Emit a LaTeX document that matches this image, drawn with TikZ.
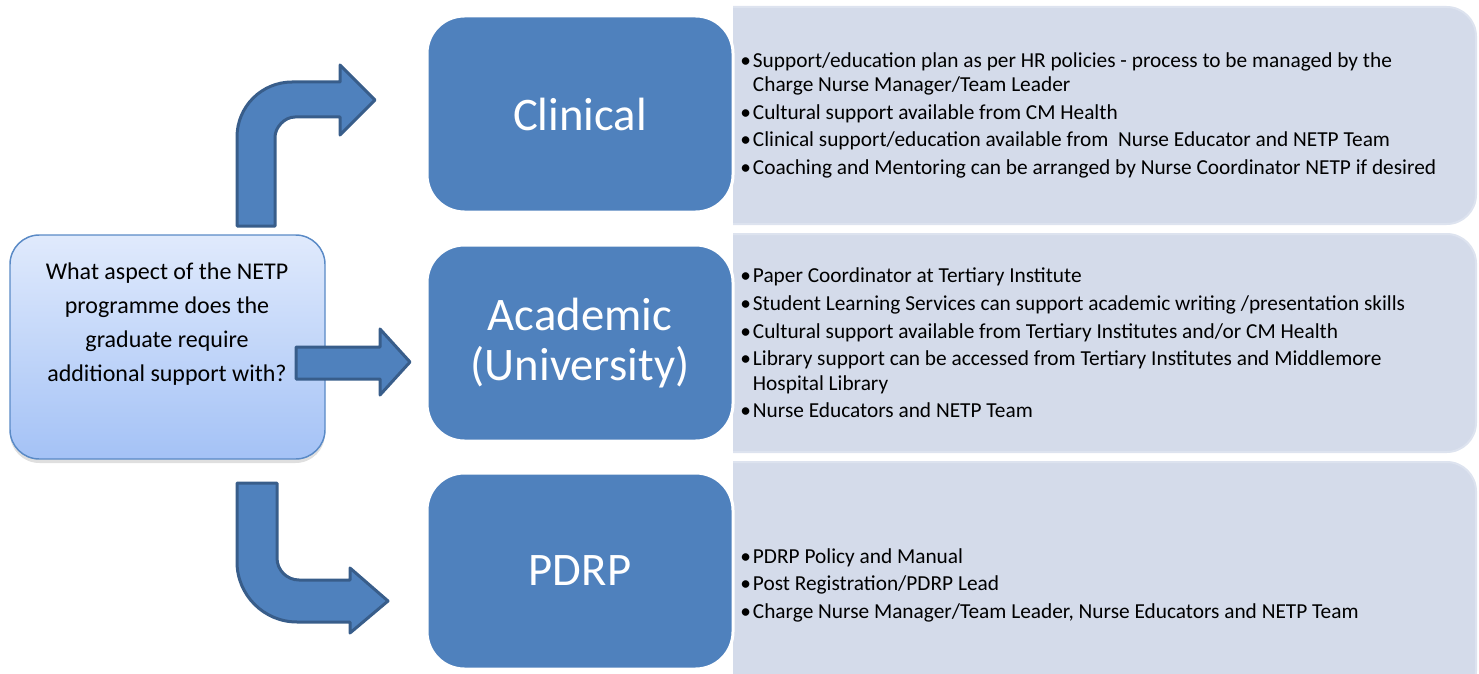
\documentclass[tikz,border=0pt]{standalone}
\usepackage{fontspec}
\setmainfont{Carlito}
\usetikzlibrary{shadows}

\definecolor{boxblue}{HTML}{4F81BD}
\definecolor{edgeblue}{HTML}{385D8A}
\definecolor{panelgray}{HTML}{D4DBEA}
\definecolor{panelrim}{HTML}{DDE3EF}
\definecolor{asktop}{HTML}{E0EAFC}
\definecolor{askbottom}{HTML}{A4C2F6}
\definecolor{askrim}{HTML}{5A8AC6}

% bullet line and its wrapped continuation
\newcommand{\itm}[1]{\makebox[9.5pt][l]{\textbullet}#1}
\newcommand{\cnt}[1]{\hspace*{9.5pt}#1}

\tikzset{
  topic/.style={rectangle, rounded corners=28pt, fill=boxblue, draw=white,
    line width=2.25pt, minimum width=229.5pt, minimum height=147pt,
    text=white, align=center, font=\fontsize{35}{38}\selectfont},
  panel/.style={rectangle, rounded corners=22pt, fill=panelgray, draw=panelrim,
    line width=1.5pt, minimum width=582pt},
  notes/.style={anchor=west, align=left, inner sep=0pt,
    font=\fontsize{16}{18.4}\selectfont},
  ask/.style={rectangle, rounded corners=22pt, top color=asktop,
    bottom color=askbottom, draw=askrim, line width=1.1pt,
    minimum width=236.25pt, minimum height=168pt,
    drop shadow={opacity=0.25, shadow xshift=0pt, shadow yshift=-3pt}},
  asktext/.style={align=center, font=\fontsize{18}{25.5}\selectfont},
  bigarrow/.style={fill=boxblue, draw=edgeblue, line width=2.25pt, line join=round}
}

\begin{document}
\begin{tikzpicture}[x=0.75pt, y=-0.75pt]
    \useasboundingbox (0,0) rectangle (1479,674);

    \begin{scope}
        \clip (733,0) rectangle (1479,674);
        \node [panel, minimum height=162.75pt] (pclin) at (1088,115.5) {};
        \node [panel, minimum height=163.5pt] (pacad) at (1088,343) {};
        \node [panel, minimum height=178.5pt] (ppdrp) at (1088,581) {};
    \end{scope}

    \node [topic] (clin) at (580,114) {Clinical};
    \node [topic] (acad) at (580,343) {Academic\\(University)};
    \node [topic] (pdrp) at (580,571) {PDRP};

    \node [notes] (nclin) at (740,115) {%
        \itm{Support/education plan as per HR policies - process to be managed by the}\\
        \cnt{Charge Nurse Manager/Team Leader}\\[2.25pt]
        \itm{Cultural support available from CM Health}\\[2.25pt]
        \itm{Clinical support/education available from\ \ Nurse Educator and NETP Team}\\[2.25pt]
        \itm{Coaching and Mentoring can be arranged by Nurse Coordinator NETP if desired}};
    \node [notes] (nacad) at (740,343) {%
        \itm{Paper Coordinator at Tertiary Institute}\\[2.25pt]
        \itm{Student Learning Services can support academic writing /presentation skills}\\[2.25pt]
        \itm{Cultural support available from Tertiary Institutes and/or CM Health}\\[2.25pt]
        \itm{Library support can be accessed from Tertiary Institutes and Middlemore}\\
        \cnt{Hospital Library}\\[2.25pt]
        \itm{Nurse Educators and NETP Team}};
    \node [notes] (npdrp) at (740,585) {%
        \itm{PDRP Policy and Manual}\\[2.25pt]
        \itm{Post Registration/PDRP Lead}\\[2.25pt]
        \itm{Charge Nurse Manager/Team Leader, Nurse Educators and NETP Team}};

    \node [ask] (ask) at (167.5,347) {};
    \node [asktext] (askt) at (167,324) {What aspect of the NETP\\programme does the\\graduate require\\additional support with?};

    % turn up, straight on, turn down
    \draw [bigarrow] (237,226) -- (237,137) .. controls (237,106.6) and (261.6,82) .. (292,82)
        -- (340,82) -- (340,65) -- (375,100) -- (340,135) -- (340,117) -- (295,117)
        .. controls (284,117) and (275,128) .. (275,137) -- (275,226) -- cycle;
    \draw [bigarrow] (296,347) -- (380,347) -- (380,329) -- (410,362) -- (380,395)
        -- (380,379) -- (296,379) -- cycle;
    \draw [bigarrow] (237,483) -- (237,562) .. controls (237,595.1) and (263.9,622) .. (297,622)
        -- (350,622) -- (350,633) -- (388,601) -- (350,568) -- (350,580) -- (299,580)
        .. controls (286.9,580) and (277,570.1) .. (277,558) -- (277,483) -- cycle;
\end{tikzpicture}
\end{document}
